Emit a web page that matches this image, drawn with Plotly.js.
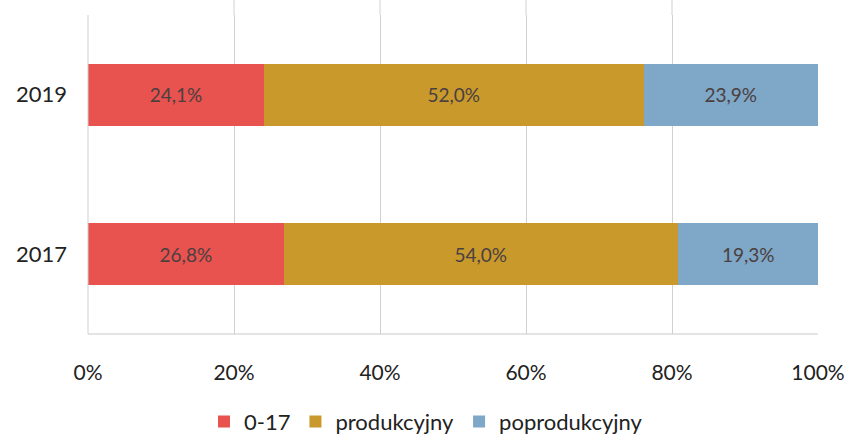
<!DOCTYPE html>
<html>
<head>
<meta charset="utf-8">
<script src="https://cdn.plot.ly/plotly-3.0.1.min.js"></script>
<style>html,body{margin:0;padding:0;background:#fff;}#chart{width:852px;height:443px;}</style>
</head>
<body>
<div id="chart"></div>
<script>
const years = ["2017", "2019"];
const seriesNames = ["0-17", "produkcyjny", "poprodukcyjny"];
const v0_17 = [26.8, 24.1];
const vProd = [54.0, 52.0];
const vPoprod = [19.3, 23.9];
const xTicks = [0, 20, 40, 60, 80, 100];
const xTickLabels = ["0%", "20%", "40%", "60%", "80%", "100%"];

const colors = ["#E8524F", "#C9992C", "#7FA7C7"];
const fmt = v => v.toFixed(1).replace('.', ',') + '%';
const allVals = [v0_17, vProd, vPoprod];

const traces = allVals.map((vals, i) => ({
  type: 'bar',
  orientation: 'h',
  name: seriesNames[i],
  y: years,
  x: vals,
  text: vals.map(fmt),
  textposition: 'inside',
  insidetextanchor: 'middle',
  textangle: 0,
  textfont: {family: 'Lato, "Open Sans", sans-serif', size: 19, color: '#4a4040'},
  marker: {color: colors[i], line: {width: 0}},
  width: 0.39,
  hoverinfo: 'skip'
}));

const layout = {
  width: 852, height: 443,
  margin: {l: 88, r: 34, t: 15, b: 109, autoexpand: false},
  barmode: 'stack',
  showlegend: true,
  paper_bgcolor: '#ffffff',
  plot_bgcolor: '#ffffff',
  font: {family: 'Lato, "Open Sans", sans-serif', size: 21, color: '#222'},
  xaxis: {
    range: [0, 100],
    tickvals: xTicks,
    ticktext: xTickLabels,
    showgrid: true,
    gridcolor: '#d0d0d0',
    gridwidth: 1,
    zeroline: false,
    showline: false,
    ticks: '',
    ticklabelstandoff: 24,
    tickfont: {size: 21, color: '#222'},
    fixedrange: true
  },
  yaxis: {
    type: 'category',
    categoryorder: 'array',
    categoryarray: years,
    range: [-0.5, 1.5],
    showgrid: false,
    zeroline: false,
    showline: false,
    ticks: '',
    ticklabelstandoff: 20,
    tickfont: {size: 22, color: '#222'},
    fixedrange: true
  },
  shapes: [
    {type: 'line', xref: 'paper', yref: 'paper', x0: 0, x1: 1, y0: 0, y1: 0, line: {color: '#c8c8c8', width: 1}},
    {type: 'line', xref: 'paper', yref: 'paper', x0: 0, x1: 0, y0: 0, y1: 1, line: {color: '#d0d0d0', width: 1}},
    {type: 'line', xref: 'x', yref: 'paper', x0: 20, x1: 20, y0: 1, y1: 1.047, line: {color: '#d0d0d0', width: 1}},
    {type: 'line', xref: 'x', yref: 'paper', x0: 40, x1: 40, y0: 1, y1: 1.047, line: {color: '#d0d0d0', width: 1}},
    {type: 'line', xref: 'x', yref: 'paper', x0: 60, x1: 60, y0: 1, y1: 1.047, line: {color: '#d0d0d0', width: 1}},
    {type: 'line', xref: 'x', yref: 'paper', x0: 80, x1: 80, y0: 1, y1: 1.047, line: {color: '#d0d0d0', width: 1}}
  ],
  legend: {
    orientation: 'h',
    x: 0.5, xanchor: 'center', xref: 'container',
    y: 0.048, yanchor: 'middle', yref: 'container',
    traceorder: 'normal',
    font: {size: 22, color: '#222'},
    itemwidth: 30
  }
};

Plotly.newPlot('chart', traces, layout, {displayModeBar: false, staticPlot: true});
</script>
</body>
</html>
